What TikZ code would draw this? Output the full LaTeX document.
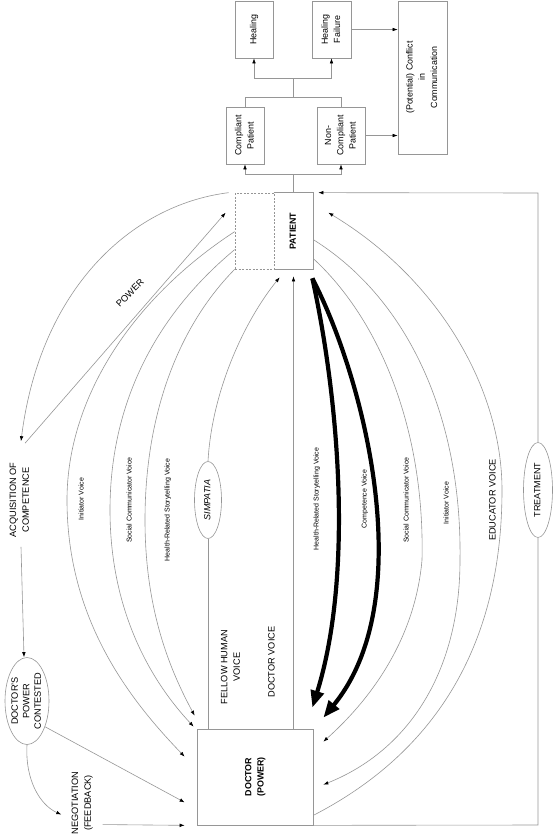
\documentclass[tikz,border=0pt]{standalone}
\usepackage{fontspec}
\setmainfont{Liberation Sans}
\usetikzlibrary{arrows.meta,shapes.geometric,calc}
\definecolor{lc}{RGB}{150,150,150}
\newcommand{\rtx}[1]{\rotatebox{90}{\begin{tabular}{@{}c@{}}#1\end{tabular}}}
\begin{document}
\begin{tikzpicture}[x=1pt,y=-1pt,
  ln/.style={draw=lc,line width=0.6pt},
  arr/.style={ln,-{Latex[length=5pt,width=3.6pt,black]}},
  tharr/.style={draw=black,line width=4.2pt,-{Triangle[length=17pt,width=13pt]}},
  box/.style={draw=lc,line width=0.7pt,inner sep=0pt,font=\fontsize{8.9}{12.2}\selectfont},
  ell/.style={ellipse,draw=lc,line width=0.6pt,inner sep=0pt,font=\fontsize{9}{11.5}\selectfont},
  lbl/.style={inner sep=0pt,font=\fontsize{9.2}{12.5}\selectfont},
  sml/.style={inner sep=0pt,font=\fontsize{7}{8.4}\selectfont}]
\useasboundingbox (0,0) rectangle (553,839);

% top boxes
\node[box,minimum width=38pt,minimum height=57pt] (heal) at (254,29.5) {\rtx{Healing}};
\node[box,minimum width=39pt,minimum height=57pt] (hfail) at (331.5,29.5) {\rtx{Healing\\Failure}};
\node[box,minimum width=49pt,minimum height=153pt] (conf) at (422.5,77.5) {\rtx{(Potential) Conflict\\in\\Communication}};
\node[box,minimum width=38pt,minimum height=57pt] (comp) at (245,135.5) {\rtx{Compliant\\Patient}};
\node[box,minimum width=48pt,minimum height=57pt] (ncomp) at (341,135.5) {\rtx{Non-\\Compliant\\Patient}};

% patient and doctor
\node[box,dash pattern=on 2pt off 1.5pt,minimum width=39pt,minimum height=76pt] (dash) at (254.5,231) {};
\node[box,draw=none,minimum width=39pt,minimum height=76pt] (pat) at (293.5,231) {\rtx{\bfseries PATIENT}};
\draw[ln,line width=0.7pt] (pat.north west) -- (pat.north east) -- (pat.south east) -- (pat.south west);
\node[box,minimum width=116pt,minimum height=96pt] (doc) at (255,777) {\rtx{\bfseries DOCTOR\\\bfseries (POWER)}};

% ellipses
\node[ell,minimum width=27pt,minimum height=77pt] (simp) at (208,500) {\rtx{\itshape SIMPATIA}};
\node[ell,minimum width=29pt,minimum height=95pt] (trt) at (538,490) {\rtx{TREATMENT}};
\node[ell,minimum width=44pt,minimum height=87pt] (dpc) at (27,701) {};
\node[lbl,font=\fontsize{9.2}{11.5}\selectfont] (dpct) at (dpc) {\rtx{DOCTOR'S\\POWER\\CONTESTED}};

% labels
\node[sml] (liv) at (82,499) {\rtx{Initiator Voice}};
\node[sml] (lsc) at (130,500) {\rtx{Social Communicator Voice}};
\node[sml] (lhr) at (168,510) {\rtx{Health-Related Storytelling Voice}};
\node[lbl] (fhv) at (231,667) {\rtx{FELLOW HUMAN\\VOICE}};
\node[lbl] (dvl) at (272,662) {\rtx{DOCTOR VOICE}};
\node[sml] (rhr) at (317,499) {\rtx{Health-Related Storytelling Voice}};
\node[sml] (rcv) at (365,499) {\rtx{Competence Voice}};
\node[sml] (rsc) at (407,500) {\rtx{Social Communicator Voice}};
\node[sml] (riv) at (447,503) {\rtx{Initiator Voice}};
\node[lbl] (edv) at (493,500) {\rtx{EDUCATOR VOICE}};
\node[lbl] (acq) at (20,500) {\rtx{ACQUISITION OF\\COMPETENCE}};
\node[lbl] (neg) at (82,803) {\rtx{NEGOTIATION\\(FEEDBACK)}};
\node[lbl,rotate=45] (powl) at (130,293) {POWER};

% top brackets
\coordinate (b1) at (293.5,174);
\coordinate (b2) at (293.5,97);
\coordinate (b3) at (293.5,78);
\draw[ln] (pat.north) -- (b1);
\draw[arr] (b1) -| (comp.south);
\draw[arr] (b1) -| (ncomp.south);
\draw[ln] (comp.north) |- (b2);
\draw[ln] (ncomp.north) |- (b2);
\draw[ln] (b2) -- (b3);
\draw[arr] (b3) -| (heal.south);
\draw[arr] (b3) -| (hfail.south);
\draw[arr] (hfail.east) -- (conf.west |- hfail.east);
\draw[arr] (ncomp.east) -- (conf.west |- ncomp.east);

% treatment loop
\coordinate (tbr) at (538,825);
\coordinate (ttr) at (538,193);
\draw[ln] (doc.south east) -- (tbr) -- (trt.south);
\draw[arr] (trt.north) -- (ttr) -- ([xshift=5pt]pat.north east);

% centre lines
\draw[arr] (doc.north -| pat.south) -- ([yshift=-7pt]pat.south);
\draw[ln] (doc.north -| simp.south) -- (simp.south);
\draw[arr] (simp.north) .. controls (212,390) and (245,320) .. ([shift={(6pt,-8pt)}]pat.south west);

% left arcs
\draw[arr] ([yshift=-39pt]dash.north west) .. controls (130,300) and (67,400) .. (67,500)
   .. controls (67,620) and (130,700) .. ([shift={(-12pt,-28pt)}]doc.north west);
\draw[arr] ([yshift=-57pt]dash.north west) .. controls (150,320) and (110,410) .. (110,510)
   .. controls (110,610) and (150,680) .. ([shift={(-3pt,2pt)}]doc.north west);
\draw[arr] (dash.south west) .. controls (175,330) and (145,420) .. (145,520)
   .. controls (145,610) and (170,670) .. ([shift={(-2pt,13pt)}]doc.north west);

% power
\draw[arr] ([xshift=-6pt]dash.north west) .. controls (130,205) and (40,290) .. ([shift={(1pt,21pt)}]acq.north);
\draw[arr] ([shift={(5pt,19pt)}]acq.north) -- ([shift={(-9pt,-20pt)}]dash.north west);
\draw[arr] ([shift={(1pt,-9pt)}]acq.south) -- ([xshift=-3pt]dpc.north);
\draw[arr] (dpc.-55) -- ([shift={(-12pt,23pt)}]doc.south west);
\draw[arr] (dpc.south) .. controls (25,780) and (40,805) .. ([shift={(-8pt,20pt)}]neg.south west);
\draw[arr] ([shift={(8pt,10pt)}]neg.south east) -- ([xshift=-12pt]doc.south west);

% right thick arcs
\coordinate (tst) at ([shift={(-1pt,-9pt)}]pat.south east);
\draw[tharr] (tst) .. controls (337,390) and (355,570) .. ([shift={(-1pt,21pt)}]doc.north east);
\draw[tharr] (tst) .. controls (365,380) and (420,600) .. ([shift={(10pt,11pt)}]doc.north east);

% right thin arcs
\draw[arr] ([yshift=-66pt]pat.north east) .. controls (380,320) and (425,430) .. (422,560)
   .. controls (415,640) and (370,700) .. ([shift={(10pt,-13pt)}]doc.north east);
\draw[arr] ([yshift=-47pt]pat.north east) .. controls (410,300) and (462,420) .. (460,560)
   .. controls (460,670) and (410,750) .. ([shift={(10pt,-56pt)}]doc.north east);
\draw[arr] ([yshift=10pt]doc.south east) .. controls (440,750) and (502,640) .. (502,490)
   .. controls (502,390) and (440,280) .. ([shift={(15pt,-20pt)}]pat.north east);
\end{tikzpicture}
\end{document}
